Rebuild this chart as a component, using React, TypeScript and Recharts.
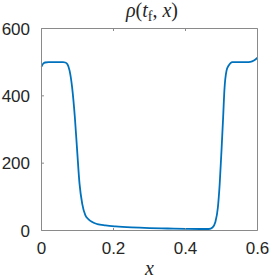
import { LineChart, Line, XAxis, YAxis } from "recharts"

// position along the domain and the density at the final time
const xs = [
  0, 0.005, 0.01, 0.02, 0.04, 0.06, 0.066, 0.072, 0.078, 0.085, 0.0926, 0.099, 0.1056, 0.113, 0.122, 0.13, 0.141,
  0.155, 0.178, 0.206, 0.25, 0.3, 0.35, 0.4, 0.44, 0.465, 0.475, 0.483, 0.49, 0.495, 0.5, 0.5046, 0.508, 0.514,
  0.52, 0.525, 0.53, 0.55, 0.57, 0.58, 0.59, 0.6,
]
const rho = [
  487, 496, 499, 500, 500, 500, 499, 494, 475, 426, 337, 238, 139, 80, 45, 34, 25, 19, 15, 12, 9, 7, 6, 5, 4.5,
  4.5, 9, 25, 69, 139, 238, 337, 416, 475, 490, 497, 500, 500, 500, 501, 505, 513,
]
const xTicks = [0, 0.2, 0.4, 0.6]
const yTicks = [0, 200, 400, 600]

const data = xs.map((x, i) => ({ x, rho: rho[i] }))

const AXIS = "#8a8a8a"
const TEXT = "#262626"
const TICK_LEN = 2.5
const sans = "'Liberation Sans', Arial, sans-serif"
const serif = "'Liberation Serif', 'Times New Roman', serif"

const BottomTick = (props: any) => {
  const { x, y, payload } = props
  return (
    <g>
      <line x1={x} y1={y} x2={x} y2={y - TICK_LEN} stroke={AXIS} />
      <text x={x} y={y + 11.5} dy="0.71em" textAnchor="middle" fill={TEXT} fontFamily={sans} fontSize={17}>
        {String(payload.value)}
      </text>
    </g>
  )
}

const LeftTick = (props: any) => {
  const { x, y, payload } = props
  return (
    <g>
      <line x1={x} y1={y} x2={x + TICK_LEN} y2={y} stroke={AXIS} />
      <text x={x - 11.5} y={y} dy="0.355em" textAnchor="end" fill={TEXT} fontFamily={sans} fontSize={17}>
        {String(payload.value)}
      </text>
    </g>
  )
}

const TopTick = (props: any) => {
  const { x, y } = props
  return <line x1={x} y1={y} x2={x} y2={y + TICK_LEN} stroke={AXIS} />
}

const RightTick = (props: any) => {
  const { x, y } = props
  return <line x1={x} y1={y} x2={x - TICK_LEN} y2={y} stroke={AXIS} />
}

const Title = () => (
  <svg width={270} height={28} style={{ position: "absolute", left: 0, top: 0 }}>
    <text x={152} y={17} textAnchor="middle" fill={TEXT} fontFamily={serif} fontSize={20}>
      <tspan fontStyle="italic">ρ</tspan>
      <tspan>(</tspan>
      <tspan fontStyle="italic">t</tspan>
      <tspan fontSize={14} dy={4}>f</tspan>
      <tspan dy={-4}>{", "}</tspan>
      <tspan fontStyle="italic">x</tspan>
      <tspan>)</tspan>
    </text>
  </svg>
)

export default function App() {
  return (
    <div style={{ position: "absolute", left: 0, top: 0, width: 270, height: 278, background: "#fff" }}>
      <LineChart width={270} height={278} data={data} margin={{ top: 27.5, right: 11.5, bottom: 0, left: 0 }}>
        <XAxis
          dataKey="x"
          type="number"
          domain={[0, 0.6]}
          ticks={xTicks}
          height={47.5}
          tickSize={0}
          tickMargin={0}
          tick={<BottomTick />}
          axisLine={{ stroke: AXIS }}
          tickLine={false}
          interval={0}
          label={{
            value: "x",
            position: "insideBottom",
            offset: 3,
            style: { fontStyle: "italic", fontFamily: serif, fontSize: 20, fill: TEXT },
          }}
        />
        <XAxis
          xAxisId="top"
          orientation="top"
          dataKey="x"
          type="number"
          domain={[0, 0.6]}
          ticks={xTicks}
          height={1}
          tickSize={0}
          tickMargin={0}
          tick={<TopTick />}
          axisLine={{ stroke: AXIS }}
          tickLine={false}
          interval={0}
        />
        <YAxis
          type="number"
          domain={[0, 600]}
          ticks={yTicks}
          width={41.5}
          tickSize={0}
          tickMargin={0}
          tick={<LeftTick />}
          axisLine={{ stroke: AXIS }}
          tickLine={false}
          interval={0}
        />
        <YAxis
          yAxisId="right"
          orientation="right"
          type="number"
          domain={[0, 600]}
          ticks={yTicks}
          width={1}
          tickSize={0}
          tickMargin={0}
          tick={<RightTick />}
          axisLine={{ stroke: AXIS }}
          tickLine={false}
          interval={0}
        />
        <Line
          type="monotone"
          dataKey="rho"
          stroke="#0072BD"
          strokeWidth={1.8}
          dot={false}
          activeDot={false}
          isAnimationActive={false}
        />
      </LineChart>
      <Title />
    </div>
  )
}
